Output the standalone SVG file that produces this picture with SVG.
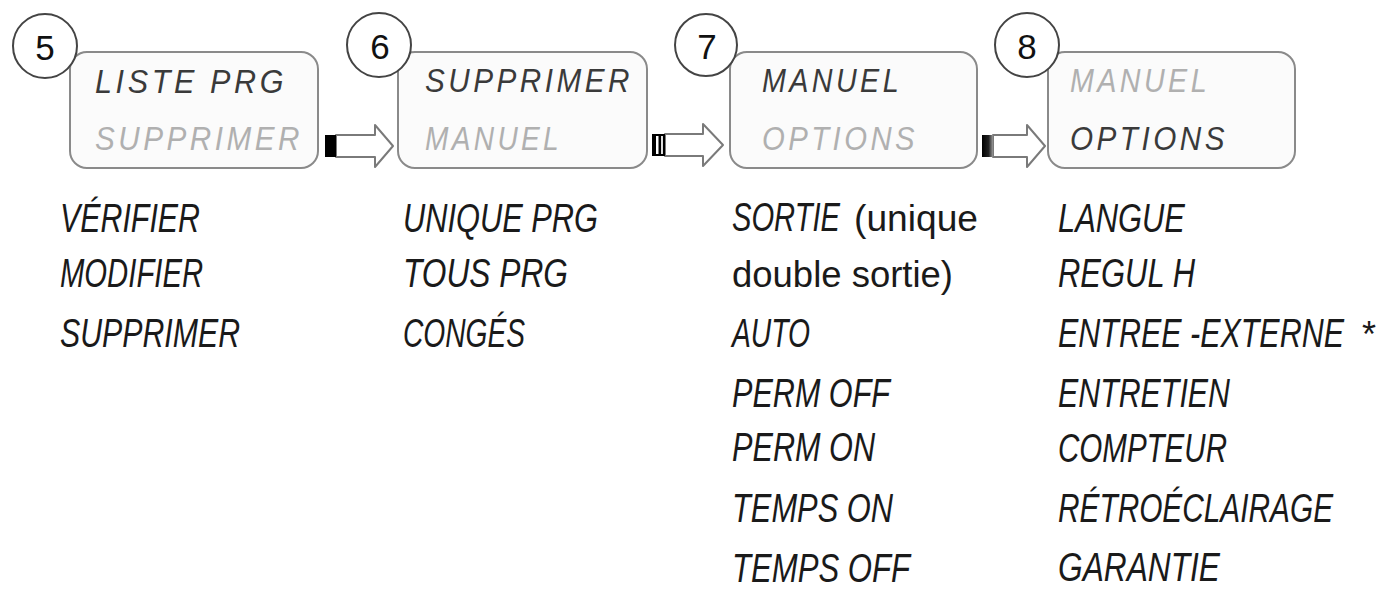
<svg xmlns="http://www.w3.org/2000/svg" width="1384" height="590" viewBox="0 0 1384 590">
<style>
.box{fill:#fbfbfb;stroke:#8a8a8a;stroke-width:2}
.num{fill:#fff;stroke:#444;stroke-width:2}
.numt{font-family:"Liberation Sans",Arial,sans-serif;font-size:35px;fill:#111;text-anchor:middle}
.lcd{font-family:"Liberation Sans",Arial,sans-serif;font-style:italic;font-size:34px;letter-spacing:4px}
.on{fill:#3a3a3a}
.off{fill:#b0b0b0}
.item{font-family:"Liberation Sans",Arial,sans-serif;font-style:italic;font-size:40px;fill:#1a1a1a}
.plain{font-family:"Liberation Sans",Arial,sans-serif;font-size:36px;fill:#1a1a1a}
.arr{fill:#fff;stroke:#7a7a7a;stroke-width:2;stroke-linejoin:round}
</style>
<defs>
<linearGradient id="g78" x1="0" x2="1" y1="0" y2="0">
<stop offset="0" stop-color="#000"/>
<stop offset="0.6" stop-color="#222"/>
<stop offset="1" stop-color="#999"/>
</linearGradient>
</defs>
<rect width="1384" height="590" fill="#fff"/>

<g id="connectors">
<g id="arrow-5-6">
<path class="arr" d="M336 135 H375 V125 L393 146 L375 167 V157 H336 Z"/>
<rect x="325" y="135" width="11" height="22" fill="#000"/>
</g>
<g id="arrow-6-7">
<path class="arr" d="M665 134 H703 V124 L723 145 L703 166 V156 H665 Z"/>
<rect x="652" y="134" width="13" height="22" fill="#000"/>
<rect x="656" y="136" width="2.5" height="18" fill="#fff"/>
<rect x="661" y="136" width="2" height="18" fill="#ddd"/>
</g>
<g id="arrow-7-8">
<path class="arr" d="M993 135 H1027 V125 L1045 146 L1027 167 V157 H993 Z"/>
<rect x="982" y="135" width="11" height="22" fill="url(#g78)"/>
</g>
</g>

<g id="step5">
<rect class="box" x="70" y="52" width="248" height="116" rx="17"/>
<circle class="num" cx="45" cy="46" r="32"/>
<text class="numt" x="45" y="60">5</text>
<text class="lcd on" x="95" y="93" textLength="192" lengthAdjust="spacingAndGlyphs">LISTE PRG</text>
<text class="lcd off" x="95" y="150" textLength="208" lengthAdjust="spacingAndGlyphs">SUPPRIMER</text>
</g>

<g id="step6">
<rect class="box" x="398" y="52" width="249" height="116" rx="17"/>
<circle class="num" cx="379" cy="45" r="32"/>
<text class="numt" x="380" y="59">6</text>
<text class="lcd on" x="425" y="92" textLength="208" lengthAdjust="spacingAndGlyphs">SUPPRIMER</text>
<text class="lcd off" x="425" y="150" textLength="137" lengthAdjust="spacingAndGlyphs">MANUEL</text>
</g>

<g id="step7">
<rect class="box" x="730" y="52" width="247" height="116" rx="17"/>
<circle class="num" cx="706" cy="45" r="31"/>
<text class="numt" x="707" y="59">7</text>
<text class="lcd on" x="762" y="92" textLength="140" lengthAdjust="spacingAndGlyphs">MANUEL</text>
<text class="lcd off" x="762" y="150" textLength="156" lengthAdjust="spacingAndGlyphs">OPTIONS</text>
</g>

<g id="step8">
<rect class="box" x="1048" y="52" width="247" height="116" rx="17"/>
<circle class="num" cx="1027" cy="45" r="32"/>
<text class="numt" x="1027" y="59">8</text>
<text class="lcd off" x="1070" y="92" textLength="140" lengthAdjust="spacingAndGlyphs">MANUEL</text>
<text class="lcd on" x="1070" y="150" textLength="158" lengthAdjust="spacingAndGlyphs">OPTIONS</text>
</g>

<g id="list5">
<text class="item" transform="translate(60 232) scale(0.75 1)" textLength="186.7" lengthAdjust="spacingAndGlyphs">VÉRIFIER</text>
<text class="item" transform="translate(60 287) scale(0.75 1)" textLength="190.7" lengthAdjust="spacingAndGlyphs">MODIFIER</text>
<text class="item" transform="translate(60 347) scale(0.75 1)" textLength="240" lengthAdjust="spacingAndGlyphs">SUPPRIMER</text>
</g>

<g id="list6">
<text class="item" transform="translate(403 232) scale(0.75 1)" textLength="260" lengthAdjust="spacingAndGlyphs">UNIQUE PRG</text>
<text class="item" transform="translate(403 287) scale(0.75 1)" textLength="220" lengthAdjust="spacingAndGlyphs">TOUS PRG</text>
<text class="item" transform="translate(403 347) scale(0.75 1)" textLength="162.7" lengthAdjust="spacingAndGlyphs">CONGÉS</text>
</g>

<g id="list7">
<text class="item" transform="translate(732 231) scale(0.75 1)" textLength="144" lengthAdjust="spacingAndGlyphs">SORTIE</text>
<text class="plain" x="854" y="231" textLength="124" lengthAdjust="spacingAndGlyphs">(unique</text>
<text class="plain" x="732" y="287" textLength="221" lengthAdjust="spacingAndGlyphs">double sortie)</text>
<text class="item" transform="translate(732 347) scale(0.75 1)" textLength="104" lengthAdjust="spacingAndGlyphs">AUTO</text>
<text class="item" transform="translate(732 407) scale(0.75 1)" textLength="210.7" lengthAdjust="spacingAndGlyphs">PERM OFF</text>
<text class="item" transform="translate(732 461) scale(0.75 1)" textLength="190.7" lengthAdjust="spacingAndGlyphs">PERM ON</text>
<text class="item" transform="translate(732 522) scale(0.75 1)" textLength="214.7" lengthAdjust="spacingAndGlyphs">TEMPS ON</text>
<text class="item" transform="translate(732 582) scale(0.75 1)" textLength="237.3" lengthAdjust="spacingAndGlyphs">TEMPS OFF</text>
</g>

<g id="list8">
<text class="item" transform="translate(1058 232) scale(0.75 1)" textLength="169.3" lengthAdjust="spacingAndGlyphs">LANGUE</text>
<text class="item" transform="translate(1058 287) scale(0.75 1)" textLength="182.7" lengthAdjust="spacingAndGlyphs">REGUL H</text>
<text class="item" transform="translate(1058 347) scale(0.75 1)" textLength="381.3" lengthAdjust="spacingAndGlyphs">ENTREE -EXTERNE</text>
<text class="plain" x="1362" y="347">*</text>
<text class="item" transform="translate(1058 407) scale(0.75 1)" textLength="229.3" lengthAdjust="spacingAndGlyphs">ENTRETIEN</text>
<text class="item" transform="translate(1058 462) scale(0.75 1)" textLength="225.3" lengthAdjust="spacingAndGlyphs">COMPTEUR</text>
<text class="item" transform="translate(1058 522) scale(0.75 1)" textLength="366.7" lengthAdjust="spacingAndGlyphs">RÉTROÉCLAIRAGE</text>
<text class="item" transform="translate(1058 581) scale(0.75 1)" textLength="216" lengthAdjust="spacingAndGlyphs">GARANTIE</text>
</g>
</svg>
